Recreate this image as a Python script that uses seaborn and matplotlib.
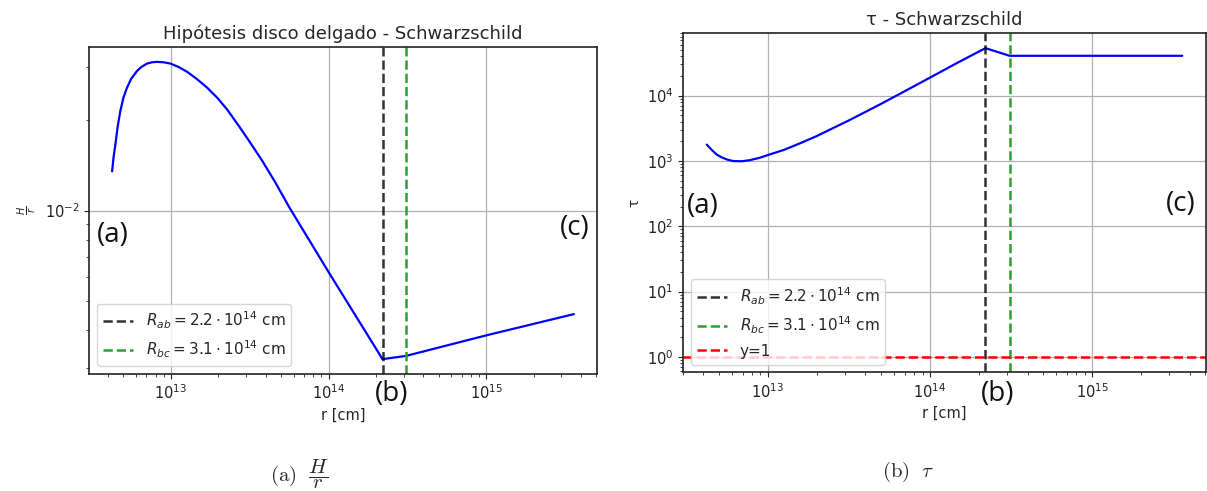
import matplotlib
matplotlib.use("Agg")
import matplotlib.pyplot as plt
import seaborn as sns
import pandas as pd
from matplotlib.ticker import NullFormatter

# ---------------- data ----------------
r_h = [4.24e12, 4.33e12, 4.45e12, 4.60e12, 4.78e12, 5.00e12, 5.27e12, 5.60e12,
       6.10e12, 6.50e12, 7.06e12, 7.60e12, 8.17e12, 9.00e12, 9.93e12, 1.12e13,
       1.27e13, 1.47e13, 1.70e13, 1.97e13, 2.27e13, 2.70e13, 3.12e13, 3.78e13,
       4.60e13, 5.61e13, 1.01e14, 2.20e14, 3.10e14, 1.00e15, 3.60e15]
h_over_r = [0.0135, 0.0150, 0.0166, 0.0190, 0.0214, 0.0237, 0.0256, 0.0274,
            0.0291, 0.0300, 0.0308, 0.0311, 0.0312, 0.0311, 0.0308, 0.0300,
            0.0289, 0.0273, 0.0256, 0.0237, 0.0217, 0.0191, 0.0171, 0.0147,
            0.0124, 0.0103, 0.0062, 0.00321, 0.00329, 0.00385, 0.00453]

r_tau = [4.2e12, 4.5e12, 4.84e12, 5.25e12, 5.62e12, 6.12e12, 6.92e12, 7.76e12,
         8.91e12, 1.0e13, 1.26e13, 1.58e13, 2.0e13, 2.51e13, 3.16e13, 4.07e13,
         5.0e13, 6.55e13, 1.0e14, 1.47e14, 2.2e14, 3.1e14, 3.6e15]
tau = [1778, 1479, 1247, 1122, 1047, 995, 989, 1028,
       1117, 1230, 1479, 1862, 2399, 3162, 4169, 5754,
       7499, 10715, 18836, 31623, 53333, 40738, 40738]

R_ab = 2.2e14
R_bc = 3.1e14
y_one = 1.0

label_ab = r"$R_{ab} = 2.2 \cdot 10^{14}$ cm"
label_bc = r"$R_{bc} = 3.1 \cdot 10^{14}$ cm"
label_one = "y=1"
titles = ["Hipótesis disco delgado - Schwarzschild", "τ - Schwarzschild"]
ylabels = [r"$\frac{H}{r}$", "τ"]
xlabel = "r [cm]"
captions = [r"$\mathrm{(a)}\ \ \dfrac{H}{r}$", r"$\mathrm{(b)}\ \ \tau$"]
region_labels = ["(a)", "(b)", "(c)"]

# ---------------- style ----------------
sns.set_style("ticks")
plt.rcParams.update({
    "font.family": ["DejaVu Sans"],
    "axes.edgecolor": "#222222",
    "axes.linewidth": 1.2,
    "axes.grid": True,
    "grid.color": "#b0b0b0",
    "grid.linewidth": 0.9,
    "xtick.labelsize": 10.5,
    "ytick.labelsize": 10.5,
    "axes.labelsize": 10.5,
    "legend.fontsize": 11,
    "xtick.color": "#222222",
    "ytick.color": "#222222",
    "mathtext.fontset": "dejavusans",
})

W, H = 1207, 491
fig = plt.figure(figsize=(W / 100, H / 100), dpi=100)

ax1 = fig.add_axes([89 / W, (H - 374) / H, 508 / W, 327 / H])
ax2 = fig.add_axes([683 / W, (H - 372.3) / H, 523 / W, 339 / H])

df_h = pd.DataFrame({"r": r_h, "v": h_over_r})
df_t = pd.DataFrame({"r": r_tau, "v": tau})

# ---- left panel
sns.lineplot(data=df_h, x="r", y="v", ax=ax1, color="blue", lw=1.6,
             estimator=None, sort=False)
ax1.axvline(R_ab, color="k", ls="--", lw=1.8, alpha=0.8, label=label_ab)
ax1.axvline(R_bc, color="tab:green", ls="--", lw=1.8, label=label_bc)
ax1.set_xscale("log")
ax1.set_yscale("log")
ax1.yaxis.set_minor_formatter(NullFormatter())
ax1.set_title(titles[0], fontsize=13)
ax1.set_xlabel(xlabel)
ax1.set_ylabel(ylabels[0], fontsize=10)
ax1.legend(loc="lower left")

# ---- right panel
sns.lineplot(data=df_t, x="r", y="v", ax=ax2, color="blue", lw=1.6,
             estimator=None, sort=False)
ax2.axvline(R_ab, color="k", ls="--", lw=1.8, alpha=0.8, label=label_ab)
ax2.axvline(R_bc, color="tab:green", ls="--", lw=1.8, label=label_bc)
ax2.axhline(y_one, color="red", ls="--", lw=1.8, label=label_one)
ax2.set_xscale("log")
ax2.set_yscale("log")
ax2.set_ylim(0.58, 9.0e4)
ax2.yaxis.set_minor_formatter(NullFormatter())
ax2.set_title(titles[1], fontsize=13)
ax2.set_xlabel(xlabel)
ax2.set_ylabel(ylabels[1], fontsize=10)
ax2.legend(loc="lower left")

for ax in (ax1, ax2):
    ax.grid(True, which="major")
    ax.grid(False, which="minor")
    for s in ax.spines.values():
        s.set_visible(True)

# ---- region annotations (a), (b), (c)
ann = dict(fontsize=20, family="Open Sans", color="#111111",
           ha="center", va="center")
fig.text(113 / W, 1 - 235 / H, region_labels[0], **ann)
fig.text(575 / W, 1 - 228 / H, region_labels[2], **ann)
fig.text(392 / W, 1 - 394 / H, region_labels[1], **ann)
fig.text(703 / W, 1 - 206 / H, region_labels[0], **ann)
fig.text(1181 / W, 1 - 204 / H, region_labels[2], **ann)
fig.text(998 / W, 1 - 394 / H, region_labels[1], **ann)

# ---- sub-captions
fig.text(300 / W, 1 - 474 / H, captions[0], fontsize=15, ha="center",
         va="center", math_fontfamily="cm")
fig.text(908 / W, 1 - 472 / H, captions[1], fontsize=15, ha="center",
         va="center", math_fontfamily="cm")

fig.savefig("out.png", dpi=100)
